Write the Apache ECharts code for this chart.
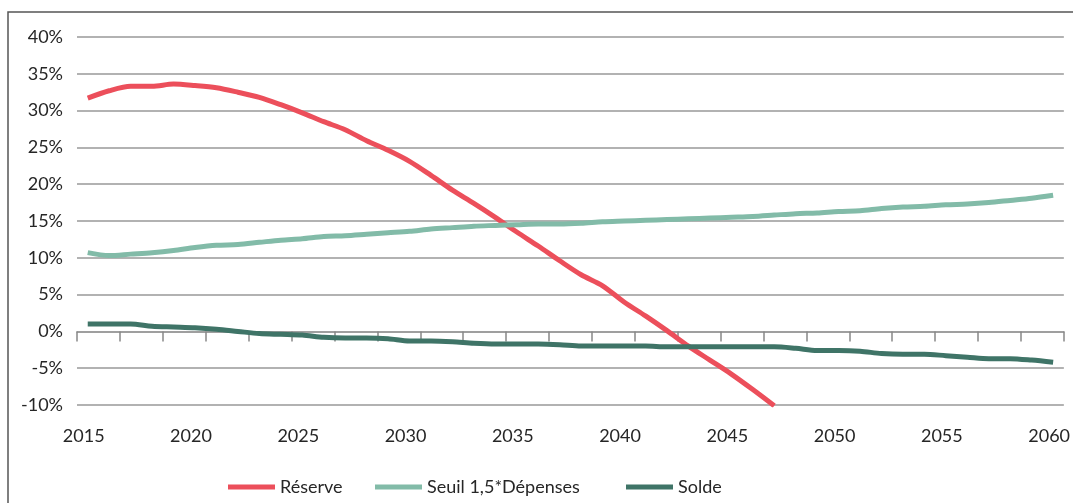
<!DOCTYPE html>
<html>
<head>
<meta charset="utf-8">
<script src="https://cdn.jsdelivr.net/npm/echarts@6/dist/echarts.min.js"></script>
<style>
html,body{margin:0;padding:0;background:#fff;}
#chart{width:1073px;height:503px;}
</style>
</head>
<body>
<div id="chart"></div>
<script>
const years = [];
for (let y = 2015; y <= 2060; y++) years.push(String(y));

const reserve = [31.7, 32.7, 33.3, 33.3, 33.6, 33.4, 33.1, 32.5, 31.8, 30.8,
  29.7, 28.5, 27.4, 25.9, 24.6, 23.1, 21.2, 19.2, 17.4, 15.5,
  13.5, 11.6, 9.6, 7.7, 6.2, 4.0, 2.1, 0.1, -2.0, -3.9,
  -5.8, -7.9, -10.1];

const seuil = [10.7, 10.3, 10.5, 10.7, 11.0, 11.4, 11.7, 11.8, 12.1, 12.4,
  12.6, 12.9, 13.0, 13.2, 13.4, 13.6, 13.9, 14.1, 14.3, 14.4,
  14.5, 14.6, 14.6, 14.7, 14.9, 15.0, 15.1, 15.2, 15.3, 15.4,
  15.5, 15.6, 15.8, 16.0, 16.1, 16.3, 16.4, 16.7, 16.9, 17.0,
  17.2, 17.3, 17.5, 17.8, 18.1, 18.5];

const solde = [1.0, 1.0, 1.0, 0.7, 0.6, 0.5, 0.3, 0.0, -0.3, -0.4,
  -0.5, -0.8, -0.9, -0.9, -1.0, -1.3, -1.3, -1.4, -1.6, -1.7,
  -1.7, -1.7, -1.8, -2.0, -2.0, -2.0, -2.0, -2.1, -2.1, -2.1,
  -2.1, -2.1, -2.1, -2.3, -2.6, -2.6, -2.7, -3.0, -3.1, -3.1,
  -3.3, -3.5, -3.7, -3.7, -3.9, -4.2];

const seriesNames = ['Réserve', 'Seuil 1,5*Dépenses', 'Solde'];
const colors = ['#EC4F5B', '#82BBA8', '#3F7467'];

const FONT = 'Lato, "Open Sans", sans-serif';
const chart = echarts.init(document.getElementById('chart'));

function legendAt(name, left) {
  return {
    data: [name], left: left, top: 478, padding: 0, icon: 'rect',
    itemWidth: 47, itemHeight: 5, itemGap: 8,
    textStyle: { fontFamily: FONT, fontSize: 18, color: '#262626' }
  };
}

chart.setOption({
  animation: false,
  color: colors,
  graphic: [{
    type: 'rect', shape: { x: 8, y: 12, width: 1100, height: 520 },
    style: { fill: 'none', stroke: '#555', lineWidth: 1.5 }, silent: true
  }],
  legend: [legendAt(seriesNames[0], 228), legendAt(seriesNames[1], 375), legendAt(seriesNames[2], 626)],
  grid: { left: 77, right: 8, top: 37, bottom: 98, containLabel: false },
  xAxis: [{
    type: 'category', data: years, boundaryGap: true, position: 'bottom',
    axisLine: { show: false, onZero: false }, axisTick: { show: false },
    axisLabel: { interval: 4, margin: 22, fontFamily: FONT, fontSize: 18, color: '#262626', padding: [0, 8, 0, 0] },
    splitLine: { show: false }
  }, {
    type: 'category', data: years, boundaryGap: true, position: 'bottom',
    axisLine: { show: true, onZero: true, lineStyle: { color: '#999', width: 1.5 } },
    axisTick: { show: true, interval: 1, length: 10, lineStyle: { color: '#888', width: 1.5 } },
    axisLabel: { show: false }, splitLine: { show: false }
  }],
  yAxis: {
    type: 'value', min: -10, max: 40, interval: 5,
    axisLine: { show: false }, axisTick: { show: false },
    axisLabel: { formatter: '{value}%', margin: 14, fontFamily: FONT, fontSize: 18, color: '#262626' },
    splitLine: { lineStyle: { color: '#999', width: 1.5 } }
  },
  series: [
    { name: seriesNames[0], type: 'line', data: reserve, showSymbol: false, smooth: 0.3, lineStyle: { width: 5, color: colors[0] }, itemStyle: { color: colors[0] } },
    { name: seriesNames[1], type: 'line', data: seuil, showSymbol: false, smooth: 0.3, lineStyle: { width: 5, color: colors[1] }, itemStyle: { color: colors[1] } },
    { name: seriesNames[2], type: 'line', data: solde, showSymbol: false, smooth: 0.3, lineStyle: { width: 5, color: colors[2] }, itemStyle: { color: colors[2] } }
  ]
});
</script>
</body>
</html>
